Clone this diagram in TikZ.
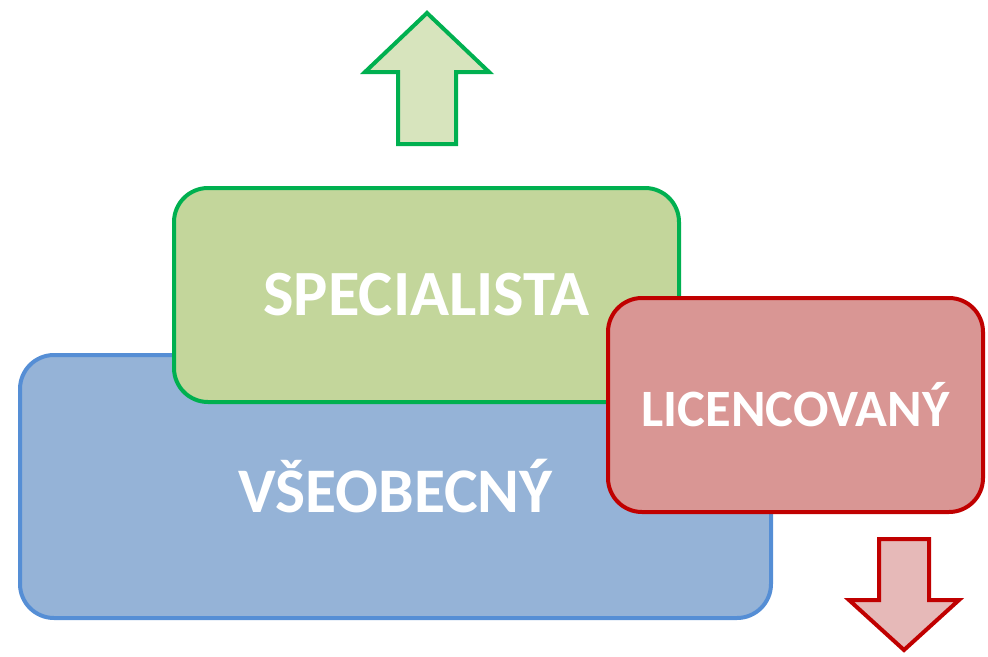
\documentclass[tikz,border=0pt]{standalone}
\usepackage{fontspec}
\setmainfont{Carlito}
\usepackage{tikz}
\usetikzlibrary{calc}
\definecolor{vfill}{HTML}{95B3D7}\definecolor{vline}{HTML}{558ED5}
\definecolor{sfill}{HTML}{C3D69B}\definecolor{sline}{HTML}{00B050}
\definecolor{lfill}{HTML}{D99694}\definecolor{lline}{HTML}{C00000}
\definecolor{upfill}{HTML}{D7E4BD}\definecolor{dnfill}{HTML}{E6B9B8}
\tikzset{box/.style={rectangle, rounded corners=34pt, line width=4pt, inner sep=0pt, outer sep=0pt, text=white},
vbox/.style={box, draw=vline, fill=vfill},sbox/.style={box, draw=sline, fill=sfill},lbox/.style={box, draw=lline, fill=lfill},
arr/.style={line width=4pt}}

\begin{document}
\begin{tikzpicture}[x=1pt, y=-1pt]
\useasboundingbox (0,0) rectangle (988,656);
\node[vbox, minimum width=751pt, minimum height=263pt, font=\bfseries\fontsize{63.5}{63.5}\selectfont] (v) at (395.5,486.5) {VŠEOBECNÝ};
\node[sbox, minimum width=505pt, minimum height=214pt, font=\bfseries\fontsize{64.5}{64.5}\selectfont] (s) at (426.5,295) {SPECIALISTA};
\node[lbox, minimum width=375pt, minimum height=214pt, font=\bfseries\fontsize{52.5}{52.5}\selectfont] (l) at (795.5,405) {LICENCOVANÝ};
\draw[arr, draw=sline, fill=upfill] (427,13) -- (489,72) -- (456,72) -- (456,144) -- (398,144) -- (398,72) -- (365,72) -- cycle;
\draw[arr, draw=lline, fill=dnfill] (879,539) -- (929,539) -- (929,600) -- (959,600) -- (904,650) -- (849,600) -- (879,600) -- cycle;
\end{tikzpicture}
\end{document}
